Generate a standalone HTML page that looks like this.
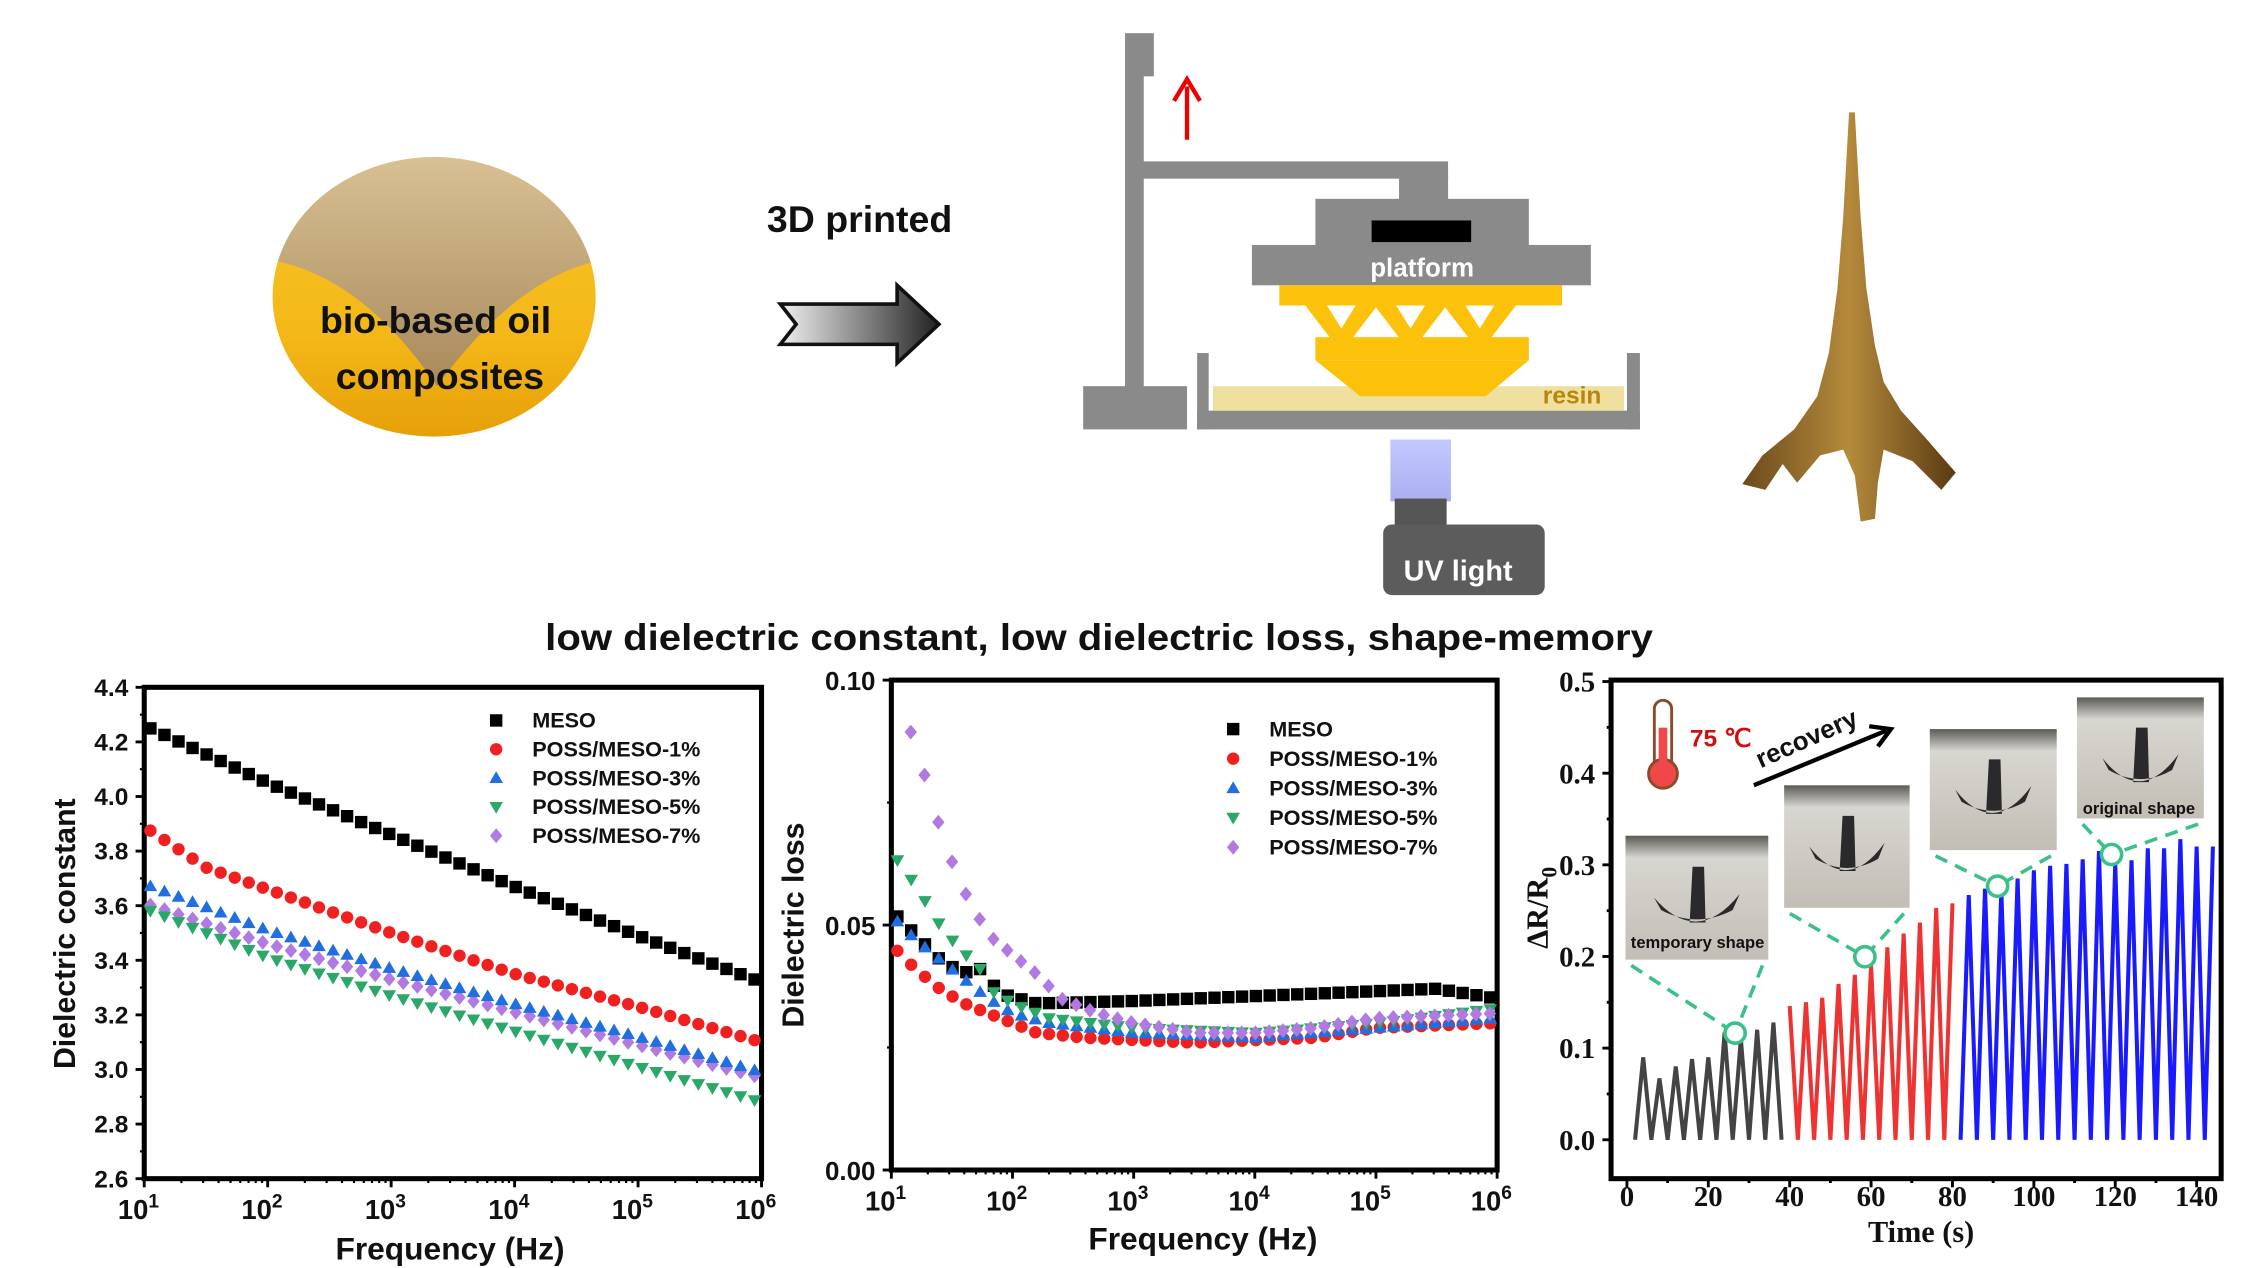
<!DOCTYPE html>
<html><head><meta charset="utf-8"><style>html,body{margin:0;padding:0;background:#fff}svg{display:block}</style></head>
<body>
<svg id="s" xmlns="http://www.w3.org/2000/svg" width="2250" height="1268" viewBox="0 0 1560 880" preserveAspectRatio="none" font-family="Liberation Sans, Arial, sans-serif">
<defs>
<linearGradient id="oil" x1="0" y1="0" x2="0" y2="1"><stop offset="0" stop-color="#f7c62a"/><stop offset="0.6" stop-color="#f4b818"/><stop offset="1" stop-color="#e39a05"/></linearGradient>
<linearGradient id="bean" x1="0" y1="0" x2="0" y2="1"><stop offset="0" stop-color="#d9c296"/><stop offset="1" stop-color="#a8895a"/></linearGradient>
<linearGradient id="arr" x1="0" y1="0" x2="1" y2="0"><stop offset="0" stop-color="#f0f0f0"/><stop offset="1" stop-color="#222"/></linearGradient>
<linearGradient id="uv" x1="0" y1="0" x2="0" y2="1"><stop offset="0" stop-color="#c4c8ff"/><stop offset="1" stop-color="#aab0f0"/></linearGradient>
<linearGradient id="tow" x1="0" y1="0" x2="1" y2="0"><stop offset="0" stop-color="#6b4a1c"/><stop offset="0.5" stop-color="#b58a3c"/><stop offset="1" stop-color="#5a3a12"/></linearGradient>
<linearGradient id="ph" x1="0" y1="0" x2="0" y2="1"><stop offset="0" stop-color="#5c5a55"/><stop offset="0.18" stop-color="#d8d6d0"/><stop offset="1" stop-color="#c2beb6"/></linearGradient>
<clipPath id="cc"><ellipse cx="301" cy="206" rx="112" ry="97"/></clipPath>
</defs>
<g clip-path="url(#cc)">
<rect x="180" y="100" width="250" height="220" fill="url(#oil)"/>
<path d="M185,105 L420,105 L420,180 Q360,190 303,268 Q250,190 185,180 Z" fill="url(#bean)"/>
</g>
<text x="302" y="231" font-size="26" font-weight="bold" text-anchor="middle" fill="#111">bio-based oil</text>
<text x="305" y="270" font-size="26" font-weight="bold" text-anchor="middle" fill="#111">composites</text>
<text x="596" y="161" font-size="26" font-weight="bold" text-anchor="middle" fill="#111">3D printed</text>
<path d="M541,211 L622,211 L622,198 L651,225 L622,252 L622,239 L541,239 L552,225 Z" fill="url(#arr)" stroke="#111" stroke-width="2.5"/>
<g fill="#8a8a8a">
<rect x="780" y="23" width="20" height="30"/><rect x="780" y="50" width="13" height="220"/>
<rect x="751" y="268" width="72" height="30"/>
<rect x="792" y="112" width="212" height="12"/><rect x="970" y="122" width="34" height="18"/>
<rect x="912" y="138" width="148" height="34"/><rect x="868" y="170" width="235" height="28"/>
<rect x="830" y="245" width="8" height="53"/><rect x="1128" y="245" width="9" height="53"/><rect x="830" y="285" width="307" height="13"/>
</g>
<rect x="951" y="153" width="69" height="15" fill="#000"/>
<text x="986" y="192" font-size="18" font-weight="bold" fill="#fff" text-anchor="middle">platform</text>
<rect x="841" y="268" width="285" height="17" fill="#efe0a0"/>
<g fill="#fcc10a">
<rect x="887" y="198" width="196" height="14"/>
<path d="M905,212 L920,212 L930,228 L940,212 L955,212 L932,242 L928,242 Z M953,212 L968,212 L978,228 L988,212 L1003,212 L980,242 L976,242Z M1001,212 L1016,212 L1026,228 L1036,212 L1051,212 L1028,242 L1024,242Z"/>
<rect x="912" y="234" width="148" height="16"/>
<path d="M912,250 L1060,250 L1030,275 L943,275 Z"/>
</g>
<text x="1090" y="280" font-size="17" font-weight="bold" fill="#b8860b" text-anchor="middle">resin</text>
<path d="M823,97 L823,60" stroke="#e00" stroke-width="3"/><path d="M814,70 L823,55 L832,70" fill="none" stroke="#e00" stroke-width="3"/>
<rect x="964" y="305" width="42" height="43" fill="url(#uv)"/>
<rect x="967" y="346" width="36" height="22" fill="#555"/>
<rect x="959" y="364" width="112" height="49" rx="6" fill="#5c5c5c"/>
<text x="1011" y="403" font-size="20" font-weight="bold" fill="#fff" text-anchor="middle">UV light</text>
<path d="M1282,78 L1286,78 L1290,150 L1294,200 L1300,240 L1306,265 L1318,285 L1336,305 L1356,328 L1346,340 L1326,320 L1306,312 L1302,335 L1300,360 L1290,362 L1286,330 L1278,312 L1262,316 L1246,335 L1236,322 L1224,340 L1208,336 L1222,316 L1244,298 L1260,275 L1268,245 L1274,200 L1278,150 Z" fill="url(#tow)"/>
<text x="762" y="451" font-size="26" font-weight="bold" text-anchor="middle" fill="#111" textLength="768" lengthAdjust="spacingAndGlyphs">low dielectric constant, low dielectric loss, shape-memory</text>
<g id="charts"></g>
</svg>
<script>
const NS="http://www.w3.org/2000/svg",G=document.getElementById('charts');
function el(t,a,p){const e=document.createElementNS(NS,t);for(const k in a)e.setAttribute(k,a[k]);(p||G).appendChild(e);return e;}
function txt(x,y,s,a){const e=el('text',Object.assign({x:x,y:y,'font-weight':'bold',fill:'#111'},a));e.textContent=s;return e;}
function interp(pts,x){for(let i=0;i<pts.length-1;i++){if(x<=pts[i+1][0])return pts[i][1]+(pts[i+1][1]-pts[i][1])*(x-pts[i][0])/(pts[i+1][0]-pts[i][0]);}return pts[pts.length-1][1];}
const cols=['#000','#f02020','#1f6fe0','#2aa868','#b07ae0'];
function marker(k,x,y,s){const c=cols[k];
 if(k==0)el('rect',{x:x-s,y:y-s,width:2*s,height:2*s,fill:c});
 else if(k==1)el('circle',{cx:x,cy:y,r:s,fill:c});
 else if(k==2)el('path',{d:`M${x},${y-s*1.1}L${x+s*1.1},${y+s*0.8}L${x-s*1.1},${y+s*0.8}Z`,fill:c});
 else if(k==3)el('path',{d:`M${x},${y+s*1.1}L${x+s*1.1},${y-s*0.8}L${x-s*1.1},${y-s*0.8}Z`,fill:c});
 else el('path',{d:`M${x},${y-s*1.2}L${x+s},${y}L${x},${y+s*1.2}L${x-s},${y}Z`,fill:c});}
const names=['MESO','POSS/MESO-1%','POSS/MESO-3%','POSS/MESO-5%','POSS/MESO-7%'];
function logAxes(L,R,T,B,fs){
 el('rect',{x:L,y:T,width:R-L,height:B-T,fill:'none',stroke:'#000','stroke-width':3.5});
 const dx=(R-L)/5;
 for(let d=0;d<=5;d++){const x=L+d*dx;el('line',{x1:x,y1:B,x2:x,y2:B+6,stroke:'#000','stroke-width':2});
  const t=txt(x-4,B+28,'10',{'font-size':fs,'text-anchor':'middle'});const sp=el('tspan',{dy:-8,'font-size':fs*0.7},t);sp.textContent=String(d+1);
  if(d<5)for(let m=2;m<10;m++){const xm=x+Math.log10(m)*dx;el('line',{x1:xm,y1:B,x2:xm,y2:B+3,stroke:'#000','stroke-width':1.5});}}
}
(function(){const L=100,R=528,T=477,B=818;
 logAxes(L,R,T,B,19);
 const yv=v=>B-(v-2.6)/1.8*(B-T);
 for(let i=0;i<=9;i++){const v=2.6+i*0.2,y=yv(v);el('line',{x1:L,y1:y,x2:L-6,y2:y,stroke:'#000','stroke-width':2});
  txt(L-11,y+6,v.toFixed(1),{'font-size':17,'text-anchor':'end'});
  if(i<9)el('line',{x1:L,y1:y-(B-T)/18,x2:L-3,y2:y-(B-T)/18,stroke:'#000','stroke-width':1.5});}
 txt(0,0,'Dielectric constant',{'font-size':21,'text-anchor':'middle',transform:`translate(52,648) rotate(-90)`});
 txt(312,874,'Frequency (Hz)',{'font-size':22,'text-anchor':'middle'});
 const D=[[[1,4.26],[2,4.05],[3,3.86],[4,3.67],[5,3.49],[6,3.32]],[[1,3.89],[1.5,3.74],[2,3.66],[3,3.50],[4,3.35],[5,3.23],[6,3.10]],[[1,3.68],[2,3.51],[3,3.37],[4,3.24],[5,3.12],[6,2.99]],[[1,3.59],[2,3.41],[3,3.27],[4,3.14],[5,3.01],[6,2.88]],[[1,3.61],[2,3.46],[3,3.33],[4,3.21],[5,3.09],[6,2.97]]];
 const xl=l=>L+(l-1)*(R-L)/5;
 for(let k=4;k>=0;k--)for(let l=1.05;l<=6.001;l+=0.1138){marker(k,xl(l),yv(interp(D[k],l)),4.3);}
 names.forEach((n,k)=>{marker(k,344,500+k*20,4.3);txt(369,505+k*20,n,{'font-size':15});});
})();
(function(){const L=618,R=1038,T=472,B=812;
 logAxes(L,R,T,B,19);
 const yv=v=>B-v/0.1*(B-T);
 [0,0.05,0.1].forEach(v=>{const y=yv(v);el('line',{x1:L,y1:y,x2:L-6,y2:y,stroke:'#000','stroke-width':2});txt(L-11,y+7,v.toFixed(2),{'font-size':18,'text-anchor':'end'});});
 [0.025,0.075].forEach(v=>{const y=yv(v);el('line',{x1:L,y1:y,x2:L-3,y2:y,stroke:'#000','stroke-width':1.5});});
 txt(0,0,'Dielectric loss',{'font-size':21,'text-anchor':'middle',transform:`translate(557,642) rotate(-90)`});
 txt(834,867,'Frequency (Hz)',{'font-size':22,'text-anchor':'middle'});
 const D=[
 [[1,0.053],[1.2,0.048],[1.4,0.043],[1.6,0.040],[1.7,0.042],[1.9,0.036],[2.2,0.034],[3,0.0345],[4,0.0355],[5,0.0365],[5.5,0.037],[6,0.035]],
 [[1,0.046],[1.2,0.041],[1.4,0.037],[1.6,0.034],[1.9,0.031],[2.2,0.028],[2.6,0.027],[3.5,0.026],[4.5,0.027],[5,0.029],[6,0.030]],
 [[1,0.052],[1.2,0.047],[1.4,0.043],[1.6,0.039],[1.8,0.035],[2,0.032],[2.3,0.030],[3,0.028],[4,0.027],[5,0.029],[6,0.031]],
 [[1,0.065],[1.2,0.058],[1.4,0.050],[1.6,0.044],[1.7,0.043],[1.8,0.037],[2,0.034],[2.3,0.031],[3,0.029],[4,0.028],[5,0.030],[6,0.033]],
 [[1,0.095],[1.2,0.088],[1.3,0.078],[1.4,0.070],[1.5,0.063],[1.6,0.057],[1.8,0.048],[2,0.044],[2.2,0.040],[2.4,0.035],[2.7,0.032],[3,0.030],[3.5,0.028],[4,0.028],[4.5,0.029],[5,0.031],[6,0.032]]];
 const xl=l=>L+(l-1)*(R-L)/5;
 for(let k=0;k<5;k++){const st=(k==4)?1.16:1.05;for(let l=st;l<=6.001;l+=0.1138){marker(k,xl(l),yv(interp(D[k],l)),4.3);}}
 names.forEach((n,k)=>{marker(k,855,506+k*20.5,4.3);txt(880,511+k*20.5,n,{'font-size':15});});
})();
(function(){const L=1117,R=1540,T=472,B=818;
 el('rect',{x:L,y:T,width:R-L,height:B-T,fill:'none',stroke:'#000','stroke-width':3.5});
 const xv=t=>1128+t*(1523-1128)/140, yv=v=>791-v*(791-473)/0.5;
 const sf='Liberation Serif, Times New Roman, serif';
 for(let t=0;t<=140;t+=10){const x=xv(t);el('line',{x1:x,y1:B,x2:x,y2:B+(t%20?3:6),stroke:'#000','stroke-width':2});if(t%20==0)txt(x,B+19,String(t),{'font-size':20,'text-anchor':'middle','font-family':sf});}
 for(let i=0;i<=10;i++){const v=i*0.05,y=yv(v);el('line',{x1:L,y1:y,x2:L-(i%2?3:6),y2:y,stroke:'#000','stroke-width':2});if(i%2==0)txt(L-11,y+7,v.toFixed(1),{'font-size':20,'text-anchor':'end','font-family':sf});}
 txt(1332,862,'Time (s)',{'font-size':21,'text-anchor':'middle','font-family':sf});
 const yl=txt(0,0,'ΔR/R',{'font-size':21,'text-anchor':'middle','font-family':sf,transform:'translate(1073,630) rotate(-90)'});const sb=el('tspan',{dy:6,'font-size':15},yl);sb.textContent='0';
 let d=`M${xv(2)},${yv(0)}`;const gp=[0.09,0.067,0.08,0.088,0.09,0.117,0.11,0.12,0.128];gp.forEach((p,i)=>{d+=`L${xv(4+4*i)},${yv(p)}L${xv(6+4*i)},${yv(0)}`;});
 el('path',{d:d,fill:'none',stroke:'#444','stroke-width':2.8});
 d=`M${xv(40)},${yv(0.146)}`;const rp=[0.15,0.155,0.17,0.18,0.19,0.21,0.225,0.237,0.253,0.258];rp.forEach((p,i)=>{d+=`L${xv(42+4*i)},${yv(0)}L${xv(44+4*i)},${yv(p)}`;});
 el('path',{d:d,fill:'none',stroke:'#ee3333','stroke-width':2.8});
 d=`M${xv(82)},${yv(0)}`;const bp=[0.267,0.274,0.272,0.285,0.294,0.299,0.301,0.306,0.315,0.301,0.305,0.318,0.318,0.328,0.32];bp.forEach((p,i)=>{d+=`L${xv(84+4*i)},${yv(p)}L${xv(86+4*i)},${yv(0)}`;});
 d+=`L${xv(144)},${yv(0.32)}`;
 el('path',{d:d,fill:'none',stroke:'#1a1aff','stroke-width':2.8});
 const ph=[[1127,580,99,86,1203,717],[1237,545,87,85,1293,664],[1338,506,88,84,1385,615],[1440,484,88,84,1464,593]];
 ph.forEach((p,i)=>{const [x,y,w,h,cx,cy]=p;
  el('path',{d:`M${x+4},${y+h+4}L${cx},${cy}M${x+w-4},${y+h+4}L${cx},${cy}`,stroke:'#3cc08a','stroke-width':2.5,'stroke-dasharray':'9,6',fill:'none'});
  el('circle',{cx:cx,cy:cy,r:7,fill:'#fff',stroke:'#3cc08a','stroke-width':2.5});
  el('rect',{x:x,y:y,width:w,height:h,fill:'url(#ph)'});
  const mx=x+w/2,my=y+h*0.55;
  el('path',{d:`M${mx-w*0.3},${my-h*0.05}Q${mx},${my+h*0.35} ${mx+w*0.3},${my-h*0.08}L${mx+w*0.25},${my+h*0.05}Q${mx},${my+h*0.2} ${mx-w*0.25},${my+h*0.05}Z M${mx-5},${my+h*0.15}L${mx-3},${my-h*0.3}L${mx+5},${my-h*0.3}L${mx+6},${my+h*0.15}Z`,fill:'#2a2a2c'});
 });
 txt(1177,658,'temporary shape',{'font-size':11.5,'text-anchor':'middle'});
 txt(1483,565,'original shape',{'font-size':11.5,'text-anchor':'middle'});
 el('rect',{x:1147,y:486,width:12,height:50,rx:6,fill:'#fff',stroke:'#8b4a2a','stroke-width':2});
 el('circle',{cx:1153,cy:537,r:10,fill:'#f04848',stroke:'#8b4a2a','stroke-width':2});
 el('rect',{x:1150,y:505,width:6,height:32,fill:'#f04848'});
 txt(1193,518,'75 ℃',{'font-size':17,'text-anchor':'middle',fill:'#d01010'});
 txt(0,0,'recovery',{'font-size':18,'text-anchor':'middle',transform:'translate(1255,518) rotate(-24)'});
 el('path',{d:'M1216,545L1308,507',stroke:'#000','stroke-width':3});
 el('path',{d:'M1296,504L1311,506L1302,518',fill:'none',stroke:'#000','stroke-width':3});
})();
</script>
</body></html>
